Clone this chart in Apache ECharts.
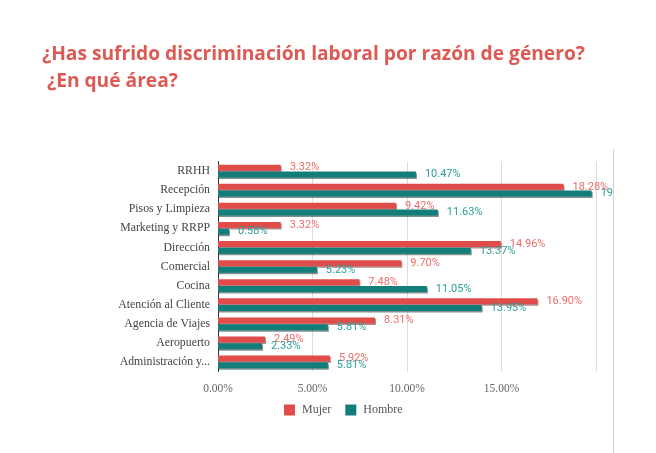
<!DOCTYPE html>
<html>
<head>
<meta charset="utf-8">
<script src="https://cdn.jsdelivr.net/npm/echarts@6/dist/echarts.min.js"></script>
<style>
html,body{margin:0;padding:0;background:#fff;}
#wrap{position:relative;width:656px;height:453px;overflow:hidden;background:#fff;}
#chart{position:absolute;left:0;top:0;width:613px;height:453px;}
#edge{position:absolute;left:613px;top:149px;width:0;height:304px;border-left:1px solid #d0d0d0;}
</style>
</head>
<body>
<div id="wrap"><div id="chart"></div><div id="edge"></div></div>
<script>
const categories = ["RRHH","Recepción","Pisos y Limpieza","Marketing y RRPP","Dirección","Comercial","Cocina","Atención al Cliente","Agencia de Viajes","Aeropuerto","Administración y..."];
const mujer = [3.32,18.28,9.42,3.32,14.96,9.70,7.48,16.90,8.31,2.49,5.92];
const hombre = [10.47,19.77,11.63,0.58,13.37,5.23,11.05,13.95,5.81,2.33,5.81];
const xTicks = [0,5,10,15,20];

const chart = echarts.init(document.getElementById('chart'), null, {renderer:'canvas'});
const labelFmt = p => p.value.toFixed(2) + '%';
chart.setOption({
  animation:false,
  title:{
    text:'¿Has sufrido discriminación laboral por razón de género?\n ¿En qué área?',
    left:37, top:36,
    textStyle:{fontFamily:'Open Sans', fontWeight:'bold', fontSize:19.2, lineHeight:27, color:'#dd5954'}
  },
  legend:{
    left:279, top:399,
    itemWidth:11, itemHeight:11, itemGap:14,
    icon:'rect',
    textStyle:{fontFamily:'Liberation Serif', fontSize:12, color:'#555', padding:[0,0,0,2]},
    data:['Mujer','Hombre']
  },
  grid:{left:218, top:161.5, width:378, height:210, containLabel:false},
  xAxis:{
    type:'value', min:xTicks[0], max:xTicks[xTicks.length-1], interval:5,
    axisLine:{show:false}, axisTick:{show:false},
    splitLine:{show:true, lineStyle:{color:'#dcdcdc', width:1}},
    axisLabel:{
      margin:11, fontFamily:'Liberation Serif', fontSize:11.5, color:'#666',
      formatter: v => v === 20 ? '' : v.toFixed(2) + '%'
    }
  },
  yAxis:{
    type:'category', data:categories, inverse:true,
    axisLine:{show:true, lineStyle:{color:'#333', width:1}},
    axisTick:{show:false},
    axisLabel:{margin:8, fontFamily:'Liberation Serif', fontSize:11.8, color:'#444'}
  },
  series:[
    {
      name:'Mujer', type:'bar', data:mujer, barWidth:6, barGap:'12%',
      itemStyle:{color:'#e04c49', shadowColor:'rgba(90,0,0,0.45)', shadowOffsetX:1, shadowOffsetY:1.5, shadowBlur:0},
      label:{show:true, position:'right', distance:9, formatter:labelFmt, fontFamily:'Roboto', fontSize:11, color:'#ea6d69'}
    },
    {
      name:'Hombre', type:'bar', data:hombre, barWidth:6, barGap:'12%',
      itemStyle:{color:'#137e79', shadowColor:'rgba(0,40,40,0.5)', shadowOffsetX:1, shadowOffsetY:1.5, shadowBlur:0},
      label:{show:true, position:'right', distance:9, formatter:labelFmt, fontFamily:'Roboto', fontSize:11, color:'#2c9e9a'}
    }
  ]
});
</script>
</body>
</html>
